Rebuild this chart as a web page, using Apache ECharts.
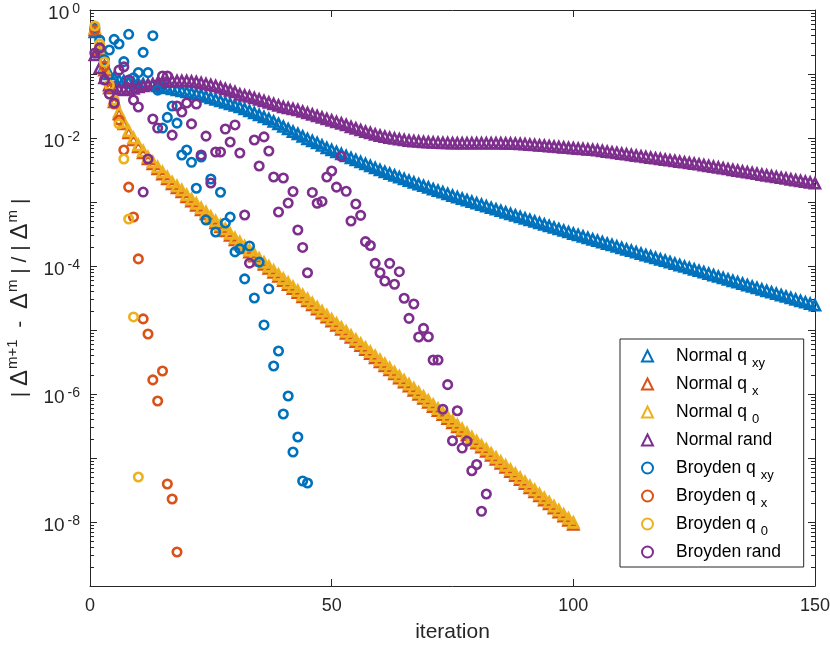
<!DOCTYPE html>
<html><head><meta charset="utf-8">
<script src="https://cdn.jsdelivr.net/npm/echarts@6/dist/echarts.min.js"></script>
<style>html,body{margin:0;padding:0;background:#fff}#c{width:830px;height:649px}</style>
</head><body><div id="c"></div>
<script>
// ---- data (iteration index = position + 1) ----
const normalQxy = [0.453,0.221,0.133,0.100,0.0866,0.0806,0.0778,0.0750,0.0723,0.0711,
0.0698,0.0686,0.0673,0.0649,0.0626,0.0604,0.0583,0.0562,0.0542,0.0523,
0.0505,0.0487,0.0470,0.0445,0.0422,0.0400,0.0379,0.0359,0.0340,0.0322,
0.0305,0.0284,0.0264,0.0246,0.0229,0.0213,0.0198,0.0181,0.0166,0.0151,
0.0138,0.0126,0.0116,0.0106,0.00965,0.00898,0.00835,0.00764,0.00698,0.00649,
0.00604,0.00562,0.00523,0.00487,0.00453,0.00422,0.00393,0.00365,0.00340,0.00316,
0.00296,0.00278,0.00260,0.00244,0.00229,0.00215,0.00202,0.00190,0.00179,0.00169,
0.00159,0.00150,0.00142,0.00134,0.00126,1.19e-3,1.13e-3,1.07e-3,1.01e-3,9.57e-4,
9.06e-4,8.58e-4,8.12e-4,7.69e-4,7.28e-4,6.89e-4,6.53e-4,6.18e-4,5.85e-4,5.54e-4,
5.25e-4,4.97e-4,4.70e-4,4.45e-4,4.22e-4,3.99e-4,3.78e-4,3.58e-4,3.39e-4,3.21e-4,
3.05e-4,2.90e-4,2.75e-4,2.61e-4,2.48e-4,2.36e-4,2.24e-4,2.13e-4,2.02e-4,1.92e-4,
1.82e-4,1.73e-4,1.64e-4,1.56e-4,1.48e-4,1.41e-4,1.34e-4,1.27e-4,1.21e-4,1.15e-4,
1.09e-4,1.03e-4,9.81e-5,9.32e-5,8.85e-5,8.41e-5,7.98e-5,7.58e-5,7.20e-5,6.84e-5,
6.50e-5,6.17e-5,5.86e-5,5.57e-5,5.29e-5,5.02e-5,4.77e-5,4.53e-5,4.30e-5,4.09e-5,
3.88e-5,3.69e-5,3.50e-5,3.33e-5,3.16e-5,3.00e-5,2.85e-5,2.71e-5,2.57e-5,2.44e-5];

const normalQx = [0.486,0.237,0.115,0.0604,0.0365,0.0237,0.0166,0.0120,0.0093,0.00724,
0.00582,0.0047,0.00392,0.00327,0.00273,0.00229,0.00191,0.00166,0.00143,0.0012,
0.00103,8.82e-4,7.5e-4,6.49e-4,5.51e-4,4.7e-4,4.06e-4,3.52e-4,2.99e-4,2.55e-4,
2.2e-4,1.91e-4,1.65e-4,1.42e-4,1.23e-4,1.06e-4,9.16e-5,7.91e-5,6.84e-5,5.91e-5,
5.11e-5,4.41e-5,3.81e-5,3.29e-5,2.85e-5,2.46e-5,2.12e-5,1.83e-5,1.58e-5,1.37e-5,
1.18e-5,1.02e-5,8.84e-6,7.64e-6,6.59e-6,5.7e-6,4.92e-6,4.25e-6,3.67e-6,3.17e-6,
2.74e-6,2.37e-6,2.05e-6,1.77e-6,1.53e-6,1.32e-6,1.14e-6,9.86e-7,8.52e-7,7.36e-7,
6.36e-7,5.5e-7,4.74e-7,4.1e-7,3.54e-7,3.06e-7,2.64e-7,2.29e-7,1.97e-7,1.7e-7,
1.47e-7,1.27e-7,1.1e-7,9.49e-8,8.21e-8,7.1e-8,6.13e-8,5.3e-8,4.58e-8,3.95e-8,
3.41e-8,2.95e-8,2.55e-8,2.2e-8,1.91e-8,1.65e-8,1.42e-8,1.23e-8,1.06e-8,9.16e-9];

const normalQ0 = [0.523,0.255,0.124,0.0649,0.0392,0.0255,0.0178,0.0129,0.0100,0.00778,
0.00626,0.00505,0.00422,0.00352,0.00294,0.00246,0.00205,0.00178,0.00154,0.00129,
0.00111,9.48e-4,8.06e-4,6.98e-4,5.93e-4,5.05e-4,4.37e-4,3.79e-4,3.22e-4,2.74e-4,
2.37e-4,2.05e-4,1.77e-4,1.53e-4,1.32e-4,1.14e-4,9.85e-5,8.51e-5,7.35e-5,6.35e-5,
5.49e-5,4.74e-5,4.10e-5,3.54e-5,3.06e-5,2.64e-5,2.28e-5,1.97e-5,1.70e-5,1.47e-5,
1.27e-5,1.10e-5,9.50e-6,8.21e-6,7.09e-6,6.13e-6,5.29e-6,4.57e-6,3.95e-6,3.41e-6,
2.95e-6,2.55e-6,2.20e-6,1.90e-6,1.64e-6,1.42e-6,1.23e-6,1.06e-6,9.16e-7,7.91e-7,
6.84e-7,5.91e-7,5.10e-7,4.41e-7,3.81e-7,3.29e-7,2.84e-7,2.46e-7,2.12e-7,1.83e-7,
1.58e-7,1.37e-7,1.18e-7,1.02e-7,8.83e-8,7.63e-8,6.59e-8,5.70e-8,4.92e-8,4.25e-8,
3.67e-8,3.17e-8,2.74e-8,2.37e-8,2.05e-8,1.77e-8,1.53e-8,1.32e-8,1.14e-8,9.85e-9];

const normalRand = [0.198,0.124,0.0866,0.0673,0.0604,0.0573,0.0562,0.0573,0.0593,0.0626,
0.0649,0.0673,0.0698,0.0723,0.0750,0.0764,0.0778,0.0778,0.0778,0.0778,
0.0764,0.0750,0.0723,0.0698,0.0673,0.0649,0.0615,0.0583,0.0552,0.0523,
0.0478,0.0462,0.0445,0.0422,0.0400,0.0379,0.0359,0.0340,0.0322,0.0305,
0.0294,0.0284,0.0274,0.0259,0.0246,0.0233,0.0221,0.0209,0.0198,0.0188,
0.0178,0.0169,0.0160,0.0149,0.0141,0.0133,0.0126,0.0120,0.0114,0.0109,
0.0105,0.0101,0.00982,0.00955,0.00931,0.00911,0.00895,0.00882,0.00869,0.00860,
0.00851,0.00845,0.00838,0.00835,0.00832,0.00829,0.00829,0.00829,0.00829,0.00829,
0.00829,0.00829,0.00829,0.00827,0.00827,0.00824,0.00821,0.00815,0.00810,0.00800,
0.00789,0.00778,0.00768,0.00758,0.00745,0.00735,0.00723,0.00713,0.00703,0.00693,
0.00683,0.00673,0.00663,0.00654,0.00643,6.28e-3,6.13e-3,5.98e-3,5.84e-3,5.70e-3,
5.57e-3,5.43e-3,5.30e-3,5.18e-3,5.05e-3,4.93e-3,4.82e-3,4.70e-3,4.59e-3,4.48e-3,
4.38e-3,4.27e-3,4.17e-3,4.07e-3,3.97e-3,3.88e-3,3.77e-3,3.66e-3,3.56e-3,3.46e-3,
3.37e-3,3.27e-3,3.18e-3,3.09e-3,3.00e-3,2.92e-3,2.84e-3,2.76e-3,2.68e-3,2.61e-3,
2.53e-3,2.46e-3,2.39e-3,2.33e-3,2.26e-3,2.20e-3,2.14e-3,2.08e-3,2.02e-3,1.96e-3];

const broydenQxy = [0.52,0.34,0.166,0.237,0.348,0.294,0.156,0.417,0.087,0.105,
0.218,0.105,0.397,0.056,0.0143,0.021,0.0316,0.0171,0.00542,0.0065,
0.00417,0.00164,0.00505,5.24e-4,0.00229,3.4e-4,0.00142,4.7e-4,5.8e-4,1.66e-4,
1.85e-4,6.3e-5,2.05e-4,3.16e-5,1.15e-4,1.2e-5,4.4e-5,2.74e-6,4.7e-6,4.87e-7,
9.3e-7,1.24e-7,2.13e-7,4.37e-8,4.07e-8];

const broydenQx = [0.487,0.255,0.133,0.0604,0.0340,0.0191,0.00649,0.00171,5.83e-4,1.29e-4,
1.49e-5,8.66e-6,1.66e-6,7.78e-7,2.29e-6,3.93e-8,2.29e-8,3.40e-9];

const broydenQ0 = [0.562,0.294,0.154,0.0673,0.0392,0.0166,0.00470,5.42e-4,1.60e-5,5.05e-8];

const broydenRand = [0.213,0.255,0.0806,0.0487,0.0352,0.115,0.129,0.0806,0.0392,0.0305,
0.00143,0.00470,0.0198,0.0143,0.0931,0.0931,0.0111,0.0316,0.0255,0.0352,
0.0166,0.0340,0.00542,0.0107,0.00198,0.00604,0.00604,0.0138,0.00866,0.0160,
0.00583,6.26e-4,1.11e-4,0.00931,0.00365,0.0104,0.00626,0.00246,6.98e-4,0.00237,
9.65e-4,0.00146,3.65e-4,1.95e-4,7.85e-5,0.00141,9.55e-4,0.00102,0.00246,0.00305,
0.00171,0.00518,0.00147,5.05e-4,9.31e-4,6.19e-4,2.40e-4,2.09e-4,1.10e-4,7.85e-5,
5.83e-5,1.10e-4,5.18e-5,8.15e-5,3.13e-5,1.52e-5,2.55e-5,7.78e-6,1.06e-5,7.85e-6,
3.40e-6,3.40e-6,5.77e-7,1.40e-6,1.86e-7,5.48e-7,1.43e-7,1.83e-7,6.33e-8,7.91e-8,
1.47e-8,2.74e-8];

const seriesNames = ['Normal q_xy','Normal q_x','Normal q_0','Normal rand',
  'Broyden q_xy','Broyden q_x','Broyden q_0','Broyden rand'];
const legendText = [['Normal q','xy'],['Normal q','x'],['Normal q','0'],['Normal rand',' '],
  ['Broyden q','xy'],['Broyden q','x'],['Broyden q','0'],['Broyden rand',' ']];
const xTicks = [0, 50, 100, 150];
const yDecades = [-9,-8,-7,-6,-5,-4,-3,-2,-1,0];
const minorMantissas = [2,3,4,5,6,7,8,9];

// ---- chart ----
const FONT = '"Liberation Sans", Arial, Helvetica, sans-serif';
const AX = '#262626';
const COL = {blue:'#0072BD', orange:'#D95319', yellow:'#EDB120', purple:'#7E2F8E'};
const xMin = xTicks[0], xMax = xTicks[xTicks.length-1];
const yMin = Math.pow(10, yDecades[0]), yMax = Math.pow(10, yDecades[yDecades.length-1]);

const minorTicks = [];
yDecades.slice(0, -1).forEach(d => minorMantissas.forEach(m => minorTicks.push(m * Math.pow(10, d))));

function pts(arr){ return arr.map((v, i) => [i + 1, v]); }
function sc(name, arr, sym, col, size){
  return {type:'scatter', name, data: pts(arr), symbol: sym, symbolSize: size,
    itemStyle:{color:'rgba(255,255,255,0)', borderColor: col, borderWidth: 2.6, opacity: 1},
    emphasis:{disabled:true}, silent:true, animation:false, z: 3};
}

const chart = echarts.init(document.getElementById('c'), null, {renderer:'canvas'});
const legendMap = {};
seriesNames.forEach((n, i) => legendMap[n] = legendText[i]);

chart.setOption({
  animation:false,
  backgroundColor:'#fff',
  grid:{left:90, right:15, top:10, bottom:63, containLabel:false, outerBoundsMode:'none'},
  xAxis:[{
    type:'value', min:xMin, max:xMax, interval:50, position:'bottom',
    axisLine:{show:true, onZero:false, lineStyle:{color:AX, width:1}},
    axisTick:{show:true, inside:true, length:7, lineStyle:{color:AX}},
    axisLabel:{fontSize:18, color:AX, margin:11, fontFamily:FONT},
    splitLine:{show:false},
    name:'iteration', nameLocation:'middle', nameGap:36,
    nameTextStyle:{fontSize:21, color:AX, fontFamily:FONT}
  },{
    type:'value', min:xMin, max:xMax, interval:50, position:'top',
    axisLine:{show:true, onZero:false, lineStyle:{color:AX, width:1}},
    axisTick:{show:true, inside:true, length:7, lineStyle:{color:AX}},
    axisLabel:{show:false}, splitLine:{show:false}
  }],
  yAxis:[{
    type:'log', logBase:10, min:yMin, max:yMax, position:'left',
    axisLine:{show:true, onZero:false, lineStyle:{color:AX, width:1}},
    axisTick:{show:true, inside:true, length:7, lineStyle:{color:AX}},
    axisLabel:{
      margin:10, color:AX, fontFamily:FONT,
      formatter: v => { const e = Math.round(Math.log10(v)); return (e % 2 === 0) ? '{b|10}{e|' + (e === 0 ? '0' : String(e)) + '}' : ''; },
      rich:{ b:{fontSize:19, color:AX, fontFamily:FONT, padding:[8,0,0,0]},
             e:{fontSize:14, color:AX, fontFamily:FONT, padding:[0,0,2,3]} }
    },
    splitLine:{show:false},
    name:'{t|| }{d|Δ}{s|m+1}{t|  -  }{d|Δ}{s|m}{t| | / | }{d|Δ}{s|m}{t| |}',
    nameLocation:'middle', nameGap:44, nameRotate:90,
    nameTextStyle:{fontFamily:FONT, color:AX, rich:{
      t:{fontSize:21, color:AX, fontFamily:FONT},
      d:{fontSize:24, color:AX, fontFamily:FONT},
      s:{fontSize:15, color:AX, fontFamily:FONT, padding:[0,0,16,1]}
    }}
  },{
    type:'log', logBase:10, min:yMin, max:yMax, position:'right',
    axisLine:{show:true, onZero:false, lineStyle:{color:AX, width:1}},
    axisTick:{show:true, inside:true, length:7, lineStyle:{color:AX}},
    axisLabel:{show:false}, splitLine:{show:false}
  }],
  legend:{
    orient:'vertical', left:620, top:339, padding:[3,14,1,21], itemGap:0,
    itemWidth:11, itemHeight:11,
    backgroundColor:'#fff', borderColor:AX, borderWidth:1, borderRadius:0,
    selectedMode:false, data: seriesNames,
    formatter: name => '{n|' + legendMap[name][0] + '}{s|' + legendMap[name][1] + '}',
    textStyle:{color:'#000', fontFamily:FONT, rich:{
      n:{fontSize:17.5, color:'#000', fontFamily:FONT, lineHeight:28, padding:[0,0,0,18]},
      s:{fontSize:13, color:'#000', fontFamily:FONT, lineHeight:28, padding:[15,0,0,5]}
    }}
  },
  series:[
    {type:'custom', name:'minorTicks', silent:true, z:1, animation:false,
     data: minorTicks.map(v => [xMin, v]), encode:{x:0, y:1},
     renderItem: (params, api) => {
       const v = api.value(1);
       const l = api.coord([xMin, v]), r = api.coord([xMax, v]);
       const y = Math.round(l[1]) + 0.5;
       return {type:'group', children:[
         {type:'line', shape:{x1:l[0], y1:y, x2:l[0] + 4, y2:y}, style:{stroke:AX, lineWidth:1}},
         {type:'line', shape:{x1:r[0], y1:y, x2:r[0] - 4, y2:y}, style:{stroke:AX, lineWidth:1}}
       ]};
     }},
    sc(seriesNames[0], normalQxy, 'triangle', COL.blue, 10),
    sc(seriesNames[1], normalQx, 'triangle', COL.orange, 10),
    sc(seriesNames[2], normalQ0, 'triangle', COL.yellow, 10),
    sc(seriesNames[3], normalRand, 'triangle', COL.purple, 10),
    sc(seriesNames[4], broydenQxy, 'circle', COL.blue, 8.5),
    sc(seriesNames[5], broydenQx, 'circle', COL.orange, 8.5),
    sc(seriesNames[6], broydenQ0, 'circle', COL.yellow, 8.5),
    sc(seriesNames[7], broydenRand, 'circle', COL.purple, 8.5)
  ]
});
</script>
</body></html>
